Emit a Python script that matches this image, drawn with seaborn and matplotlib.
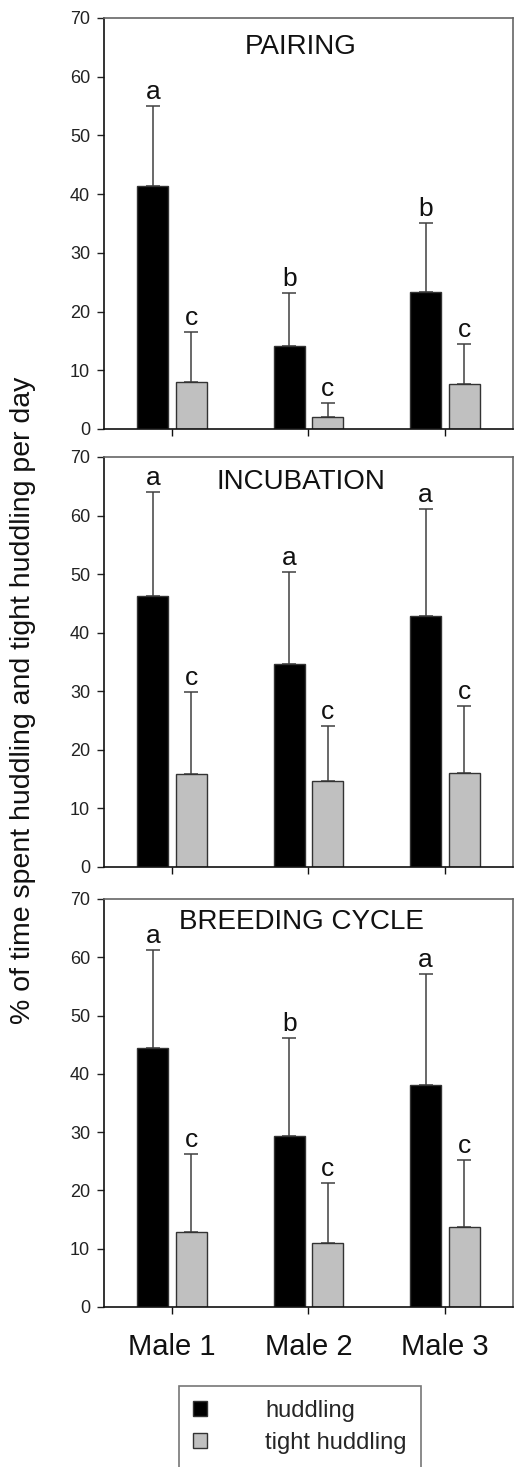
import pandas as pd
import numpy as np
import matplotlib
matplotlib.use('Agg')
import matplotlib.pyplot as plt
import seaborn as sns

# values (mean and upper error)
males = ['Male 1', 'Male 2', 'Male 3']
types = ['huddling', 'tight huddling']
stages = ['PAIRING', 'INCUBATION', 'BREEDING CYCLE']

pairing_hud = [41.4, 14.2, 23.4]
pairing_hud_err = [13.6, 8.9, 11.6]
pairing_tight = [8.0, 2.1, 7.6]
pairing_tight_err = [8.5, 2.4, 6.9]
pairing_letters = [['a', 'b', 'b'], ['c', 'c', 'c']]

incubation_hud = [46.3, 34.6, 42.9]
incubation_hud_err = [17.7, 15.8, 18.3]
incubation_tight = [15.8, 14.6, 16.0]
incubation_tight_err = [14.1, 9.5, 11.5]
incubation_letters = [['a', 'a', 'a'], ['c', 'c', 'c']]

breeding_hud = [44.5, 29.3, 38.0]
breeding_hud_err = [16.8, 16.9, 19.1]
breeding_tight = [12.9, 10.9, 13.8]
breeding_tight_err = [13.3, 10.3, 11.4]
breeding_letters = [['a', 'b', 'a'], ['c', 'c', 'c']]

yticks = [0, 10, 20, 30, 40, 50, 60, 70]
ylabel = '% of time spent huddling and tight huddling per day'

panels = [
    (pairing_hud, pairing_hud_err, pairing_tight, pairing_tight_err, pairing_letters),
    (incubation_hud, incubation_hud_err, incubation_tight, incubation_tight_err, incubation_letters),
    (breeding_hud, breeding_hud_err, breeding_tight, breeding_tight_err, breeding_letters),
]

sns.set_style('white')
plt.rcParams['font.family'] = ['Liberation Sans', 'DejaVu Sans']

fig = plt.figure(figsize=(5.15, 14.67), dpi=100)
rects = [[0.2019, 0.7076, 0.7942, 0.2802],
         [0.2019, 0.4090, 0.7942, 0.2795],
         [0.2019, 0.1091, 0.7942, 0.2781]]
title_y = [0.93, 0.938, 0.944]

palette = {'huddling': '#000000', 'tight huddling': '#c0c0c0'}

for i, (hud, hud_err, tight, tight_err, letters) in enumerate(panels):
    ax = fig.add_axes(rects[i])
    df = pd.DataFrame({
        'male': males * 2,
        'type': [types[0]] * 3 + [types[1]] * 3,
        'value': hud + tight,
    })
    sns.barplot(data=df, x='male', y='value', hue='type', hue_order=types,
                order=males, palette=palette, saturation=1, width=0.566, gap=0.2,
                errorbar=None, edgecolor='#333333', linewidth=1,
                legend=(i == 2), ax=ax)

    errs = [hud_err, tight_err]
    bars = list(ax.containers)
    for k, cont in enumerate(bars):
        xs = [p.get_x() + p.get_width() / 2 for p in cont.patches]
        hs = [p.get_height() for p in cont.patches]
        # drawn under the bars so only the upper half shows
        ax.errorbar(xs, hs, yerr=[np.zeros(3), errs[k]], fmt='none',
                    ecolor='#404040', elinewidth=1.1, capsize=5, capthick=1.1, zorder=0.5)
        for x, h, e, lab in zip(xs, hs, errs[k], letters[k]):
            ax.annotate(lab, (x, h + e), xytext=(0, 5), textcoords='offset points',
                        ha='center', va='baseline', fontsize=19, color='#111111')

    ax.text(0.482, title_y[i], stages[i], transform=ax.transAxes, ha='center', va='center',
            fontsize=20, color='#111111')

    ax.set_xlim(-0.5, 2.5)
    ax.set_ylim(0, 70)
    ax.set_yticks(yticks)
    ax.set_xlabel('')
    ax.set_ylabel('')
    ax.tick_params(axis='y', direction='out', length=5, width=1, pad=5,
                   labelsize=13, left=True, colors='#222222')
    ax.tick_params(axis='x', direction='out', length=5, width=1, bottom=True,
                   labelsize=21, pad=14, colors='#111111')
    if i < 2:
        ax.tick_params(labelbottom=False)
    for s in ['left', 'bottom']:
        ax.spines[s].set_color('#111111')
        ax.spines[s].set_linewidth(1.2)
    for s in ['top', 'right']:
        ax.spines[s].set_color('#666666')
        ax.spines[s].set_linewidth(1.2)

    if i == 2:
        handles, labels = ax.get_legend_handles_labels()
        ax.get_legend().remove()

fig.text(0.045, 1 - 700 / 1467, ylabel, rotation=90, ha='center', va='center',
         fontsize=20.5, color='#111111')

leg = fig.legend(handles, labels, loc='upper left', bbox_to_anchor=(179 / 515, 1 - 1386 / 1467),
                 borderaxespad=0, fontsize=17, handlelength=0.6, handleheight=0.6,
                 handletextpad=2.45, borderpad=0.6, labelspacing=0.4, frameon=True,
                 fancybox=False)
leg.get_frame().set_edgecolor('#555555')
leg.get_frame().set_linewidth(1.2)

fig.savefig('out.png', dpi=100)
